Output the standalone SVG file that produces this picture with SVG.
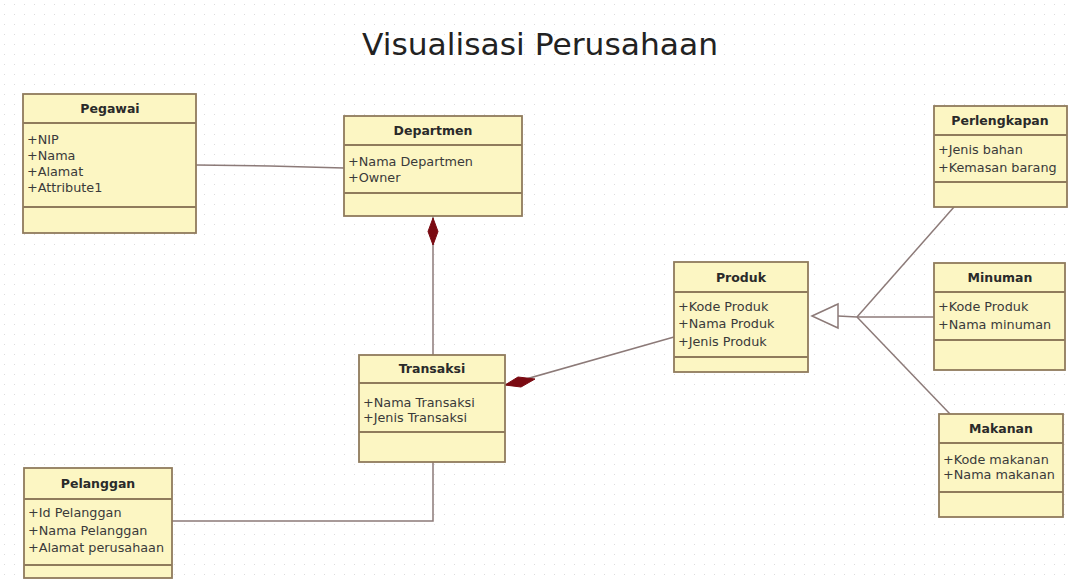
<svg xmlns="http://www.w3.org/2000/svg" width="1070" height="583" viewBox="0 0 1070 583">
<defs>
<pattern id="grid" width="10" height="10" patternUnits="userSpaceOnUse">
<rect x="4" y="4" width="1" height="1" fill="#dcdcdc"/>
</pattern>
<style>
.box{fill:#fcf6c3;stroke:#8f7b5c;stroke-width:1.8}
.div{stroke:#8f7b5c;stroke-width:1.8}
.cls{font-family:"DejaVu Sans",Verdana,sans-serif;font-size:12.5px;font-weight:bold;fill:#2a2a2a;text-anchor:middle}
.att{font-family:"DejaVu Sans",Verdana,sans-serif;font-size:12.8px;fill:#3a3a3a}
.con{stroke:#8c7a78;stroke-width:1.5;fill:none}
.dia{fill:#7a0a12;stroke:#7a0a12;stroke-width:1}
.tri{fill:#ffffff;stroke:#8c7a78;stroke-width:1.5}
</style>
</defs>
<rect width="1070" height="583" fill="#ffffff"/>
<rect width="1070" height="583" fill="url(#grid)"/>
<text x="540" y="55" font-family="DejaVu Sans,Verdana,sans-serif" font-size="31" fill="#222" text-anchor="middle" textLength="356" lengthAdjust="spacingAndGlyphs">Visualisasi Perusahaan</text>

<g id="connectors">
<polyline class="con" points="196,165 270,166 344,168"/>
<line class="con" x1="433" y1="216" x2="433" y2="355"/>
<polygon class="dia" points="433,218 438,231.5 433,245 428,231.5"/>
<line class="con" x1="505" y1="385" x2="674" y2="337"/>
<polygon class="dia" points="505,385 518,377 535,379 521,387"/>
<polyline class="con" points="433,462 433,521 172,521"/>
<line class="con" x1="838" y1="316" x2="857" y2="317"/>
<line class="con" x1="857" y1="317" x2="954" y2="207"/>
<line class="con" x1="857" y1="317" x2="934" y2="317"/>
<line class="con" x1="857" y1="317" x2="950" y2="414"/>
<polygon class="tri" points="812,316 838,304 838,328"/>
</g>

<g id="pegawai">
<rect class="box" x="23" y="94" width="173" height="139"/>
<line class="div" x1="23" y1="123" x2="196" y2="123"/>
<line class="div" x1="23" y1="207" x2="196" y2="207"/>
<text class="cls" x="110" y="113">Pegawai</text>
<text class="att" x="27" y="144">+NIP</text>
<text class="att" x="27" y="160">+Nama</text>
<text class="att" x="27" y="176">+Alamat</text>
<text class="att" x="27" y="192">+Attribute1</text>
</g>

<g id="departmen">
<rect class="box" x="344" y="116" width="178" height="100"/>
<line class="div" x1="344" y1="145" x2="522" y2="145"/>
<line class="div" x1="344" y1="193" x2="522" y2="193"/>
<text class="cls" x="433" y="135">Departmen</text>
<text class="att" x="348" y="166">+Nama Departmen</text>
<text class="att" x="348" y="182">+Owner</text>
</g>

<g id="transaksi">
<rect class="box" x="359" y="355" width="146" height="107"/>
<line class="div" x1="359" y1="383" x2="505" y2="383"/>
<line class="div" x1="359" y1="432" x2="505" y2="432"/>
<text class="cls" x="432" y="373">Transaksi</text>
<text class="att" x="363" y="407">+Nama Transaksi</text>
<text class="att" x="363" y="422">+Jenis Transaksi</text>
</g>

<g id="pelanggan">
<rect class="box" x="24" y="468" width="148" height="110"/>
<line class="div" x1="24" y1="499" x2="172" y2="499"/>
<line class="div" x1="24" y1="565" x2="172" y2="565"/>
<text class="cls" x="98" y="488">Pelanggan</text>
<text class="att" x="28" y="517">+Id Pelanggan</text>
<text class="att" x="28" y="535">+Nama Pelanggan</text>
<text class="att" x="28" y="552">+Alamat perusahaan</text>
</g>

<g id="produk">
<rect class="box" x="674" y="262" width="134" height="110"/>
<line class="div" x1="674" y1="292" x2="808" y2="292"/>
<line class="div" x1="674" y1="357" x2="808" y2="357"/>
<text class="cls" x="741" y="282">Produk</text>
<text class="att" x="678" y="311">+Kode Produk</text>
<text class="att" x="678" y="328">+Nama Produk</text>
<text class="att" x="678" y="346">+Jenis Produk</text>
</g>

<g id="perlengkapan">
<rect class="box" x="934" y="106" width="133" height="101"/>
<line class="div" x1="934" y1="135" x2="1067" y2="135"/>
<line class="div" x1="934" y1="182" x2="1067" y2="182"/>
<text class="cls" x="1000" y="125">Perlengkapan</text>
<text class="att" x="938" y="154">+Jenis bahan</text>
<text class="att" x="938" y="172">+Kemasan barang</text>
</g>

<g id="minuman">
<rect class="box" x="934" y="263" width="131" height="107"/>
<line class="div" x1="934" y1="292" x2="1065" y2="292"/>
<line class="div" x1="934" y1="340" x2="1065" y2="340"/>
<text class="cls" x="1000" y="282">Minuman</text>
<text class="att" x="938" y="311">+Kode Produk</text>
<text class="att" x="938" y="329">+Nama minuman</text>
</g>

<g id="makanan">
<rect class="box" x="939" y="414" width="124" height="103"/>
<line class="div" x1="939" y1="443" x2="1063" y2="443"/>
<line class="div" x1="939" y1="492" x2="1063" y2="492"/>
<text class="cls" x="1001" y="433">Makanan</text>
<text class="att" x="943" y="464">+Kode makanan</text>
<text class="att" x="943" y="479">+Nama makanan</text>
</g>
</svg>
